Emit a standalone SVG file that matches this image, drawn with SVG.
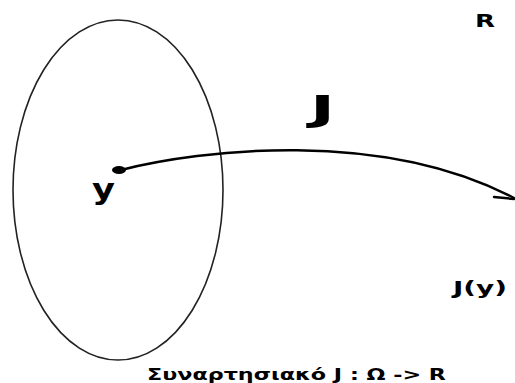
<svg xmlns="http://www.w3.org/2000/svg" width="515" height="383" viewBox="0 0 515 383">
<style>
.t{font-family:"DejaVu Sans","Liberation Sans",sans-serif;font-weight:bold;fill:#000}
.c{fill:none;stroke:#000;stroke-linecap:round}
</style>
<rect width="515" height="383" fill="#fff"/>
<g id="domain">
<ellipse cx="118" cy="190" rx="105" ry="170" fill="none" stroke="#222" stroke-width="1.6"/>
</g>
<g id="point-y">
<ellipse cx="119" cy="170" rx="7" ry="4" fill="#000"/>
<text class="t" x="92" y="199" font-size="28" textLength="23" lengthAdjust="spacingAndGlyphs">y</text>
</g>
<g id="label-R">
<text class="t" x="475" y="27" font-size="18" textLength="20" lengthAdjust="spacingAndGlyphs">R</text>
</g>
<g id="label-J">
<text class="t" x="310" y="121" font-size="35" textLength="25" lengthAdjust="spacingAndGlyphs">J</text>
</g>
<g id="label-Jy">
<text class="t" x="453" y="294" font-size="17" textLength="54" lengthAdjust="spacingAndGlyphs">J(y)</text>
</g>
<g id="connectors">
<path class="c" d="M121,170 C200,150 380,128 514,198" stroke-width="2.5"/>
<path class="c" d="M494,197 L514,199" stroke-width="2.5"/>
</g>
<g id="caption">
<text class="t" x="147" y="380" font-size="15" textLength="299" lengthAdjust="spacingAndGlyphs">Συναρτησιακό J : Ω -&gt; R</text>
</g>
</svg>
